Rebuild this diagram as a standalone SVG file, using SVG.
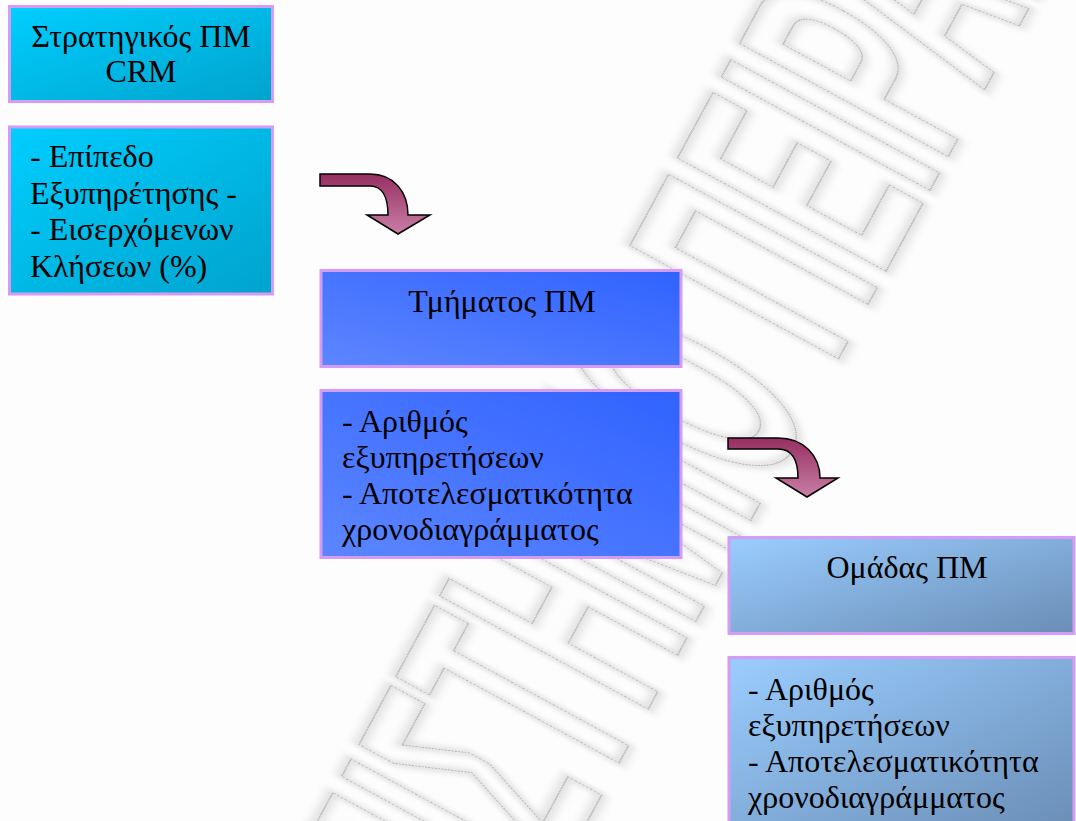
<svg xmlns="http://www.w3.org/2000/svg" width="1076" height="821" viewBox="0 0 1076 821">
  <defs>
    <linearGradient id="gCyan" x1="0" y1="0" x2="1" y2="1">
      <stop offset="0" stop-color="#00ceff"/>
      <stop offset="1" stop-color="#00a3cc"/>
    </linearGradient>
    <linearGradient id="gBlue" x1="1" y1="0" x2="0" y2="1">
      <stop offset="0" stop-color="#3062ff"/>
      <stop offset="1" stop-color="#5c86ff"/>
    </linearGradient>
    <linearGradient id="gLight" x1="0" y1="0" x2="1" y2="1">
      <stop offset="0" stop-color="#9acdff"/>
      <stop offset="1" stop-color="#6a8db5"/>
    </linearGradient>
    <linearGradient id="gArrow" x1="0" y1="0" x2="0" y2="1">
      <stop offset="0" stop-color="#962f62"/>
      <stop offset="1" stop-color="#c97fa5"/>
    </linearGradient>
    <filter id="soft" x="-20%" y="-20%" width="140%" height="140%">
      <feGaussianBlur stdDeviation="5"/>
    </filter>
    <style>
      .box { stroke: #d49cf4; stroke-width: 3; }
      .t { font-family: "Liberation Serif", "Times New Roman", serif; font-size: 32px; fill: #000; }
      .c { text-anchor: middle; }
      .arrow { fill: url(#gArrow); stroke: #000; stroke-width: 1.5; stroke-linejoin: miter; }
      .wm { font-family: "Liberation Sans", Arial, sans-serif; font-weight: bold; font-size: 345px; }
      .wmShadow { fill: none; stroke: #e2e2e2; stroke-width: 10; }
      .wmLine { fill: none; stroke: #b0b0b0; stroke-width: 1.2; stroke-dasharray: 2 1.3; }
    </style>
  </defs>
  <rect x="0" y="0" width="1076" height="821" fill="#fdfdfd"/>

  <g id="watermark">
    <g transform="translate(840,356) rotate(-61.5) scale(0.4,1)">
      <text class="wm wmShadow" x="-2768" y="0" filter="url(#soft)" vector-effect="non-scaling-stroke">ΠΑΝΕΠΙΣΤΗΜΙΟ ΠΕΙΡΑΙΩΣ</text>
      <text class="wm wmLine" x="-2768" y="0" vector-effect="non-scaling-stroke">ΠΑΝΕΠΙΣΤΗΜΙΟ ΠΕΙΡΑΙΩΣ</text>
    </g>
  </g>

  <g id="connectors">
    <path id="arrow1" class="arrow" d="M320,174 L370,174 C394,174 408,192 408,215 L430,215 L398,234 L367,215 L388,215 C388,197 382,186 370,186 L320,186 Z"/>
    <path id="arrow2" class="arrow" d="M728,438 L778,438 C804,438 820,456 820,478 L838,478 L807,497 L776,478 L798,478 C798,460 792,449 778,449 L728,449 Z"/>
  </g>

  <g id="node-strategic">
    <rect class="box" x="9.5" y="6.5" width="263" height="95" fill="url(#gCyan)"/>
    <text class="t c" x="141" y="47">Στρατηγικός ΠΜ</text>
    <text class="t c" x="141" y="82">CRM</text>
  </g>

  <g id="node-strategic-kpi">
    <rect class="box" x="9.5" y="127" width="263" height="167" fill="url(#gCyan)"/>
    <text class="t" x="30" y="167">- Επίπεδο</text>
    <text class="t" x="30" y="204">Εξυπηρέτησης -</text>
    <text class="t" x="30" y="240">- Εισερχόμενων</text>
    <text class="t" x="30" y="277">Κλήσεων (%)</text>
  </g>

  <g id="node-department">
    <rect class="box" x="321" y="270.5" width="360" height="96" fill="url(#gBlue)"/>
    <text class="t c" x="502" y="312">Τμήματος ΠΜ</text>
  </g>

  <g id="node-department-kpi">
    <rect class="box" x="321" y="390.5" width="360" height="167" fill="url(#gBlue)"/>
    <text class="t" x="342" y="432">- Αριθμός</text>
    <text class="t" x="342" y="468">εξυπηρετήσεων</text>
    <text class="t" x="342" y="504">- Αποτελεσματικότητα</text>
    <text class="t" x="342" y="540">χρονοδιαγράμματος</text>
  </g>

  <g id="node-team">
    <rect class="box" x="729" y="537.5" width="345" height="96" fill="url(#gLight)"/>
    <text class="t c" x="907" y="578">Ομάδας ΠΜ</text>
  </g>

  <g id="node-team-kpi">
    <rect class="box" x="729" y="657.5" width="345" height="175" fill="url(#gLight)"/>
    <text class="t" x="748" y="700">- Αριθμός</text>
    <text class="t" x="748" y="736">εξυπηρετήσεων</text>
    <text class="t" x="748" y="772">- Αποτελεσματικότητα</text>
    <text class="t" x="748" y="808">χρονοδιαγράμματος</text>
  </g>
</svg>
